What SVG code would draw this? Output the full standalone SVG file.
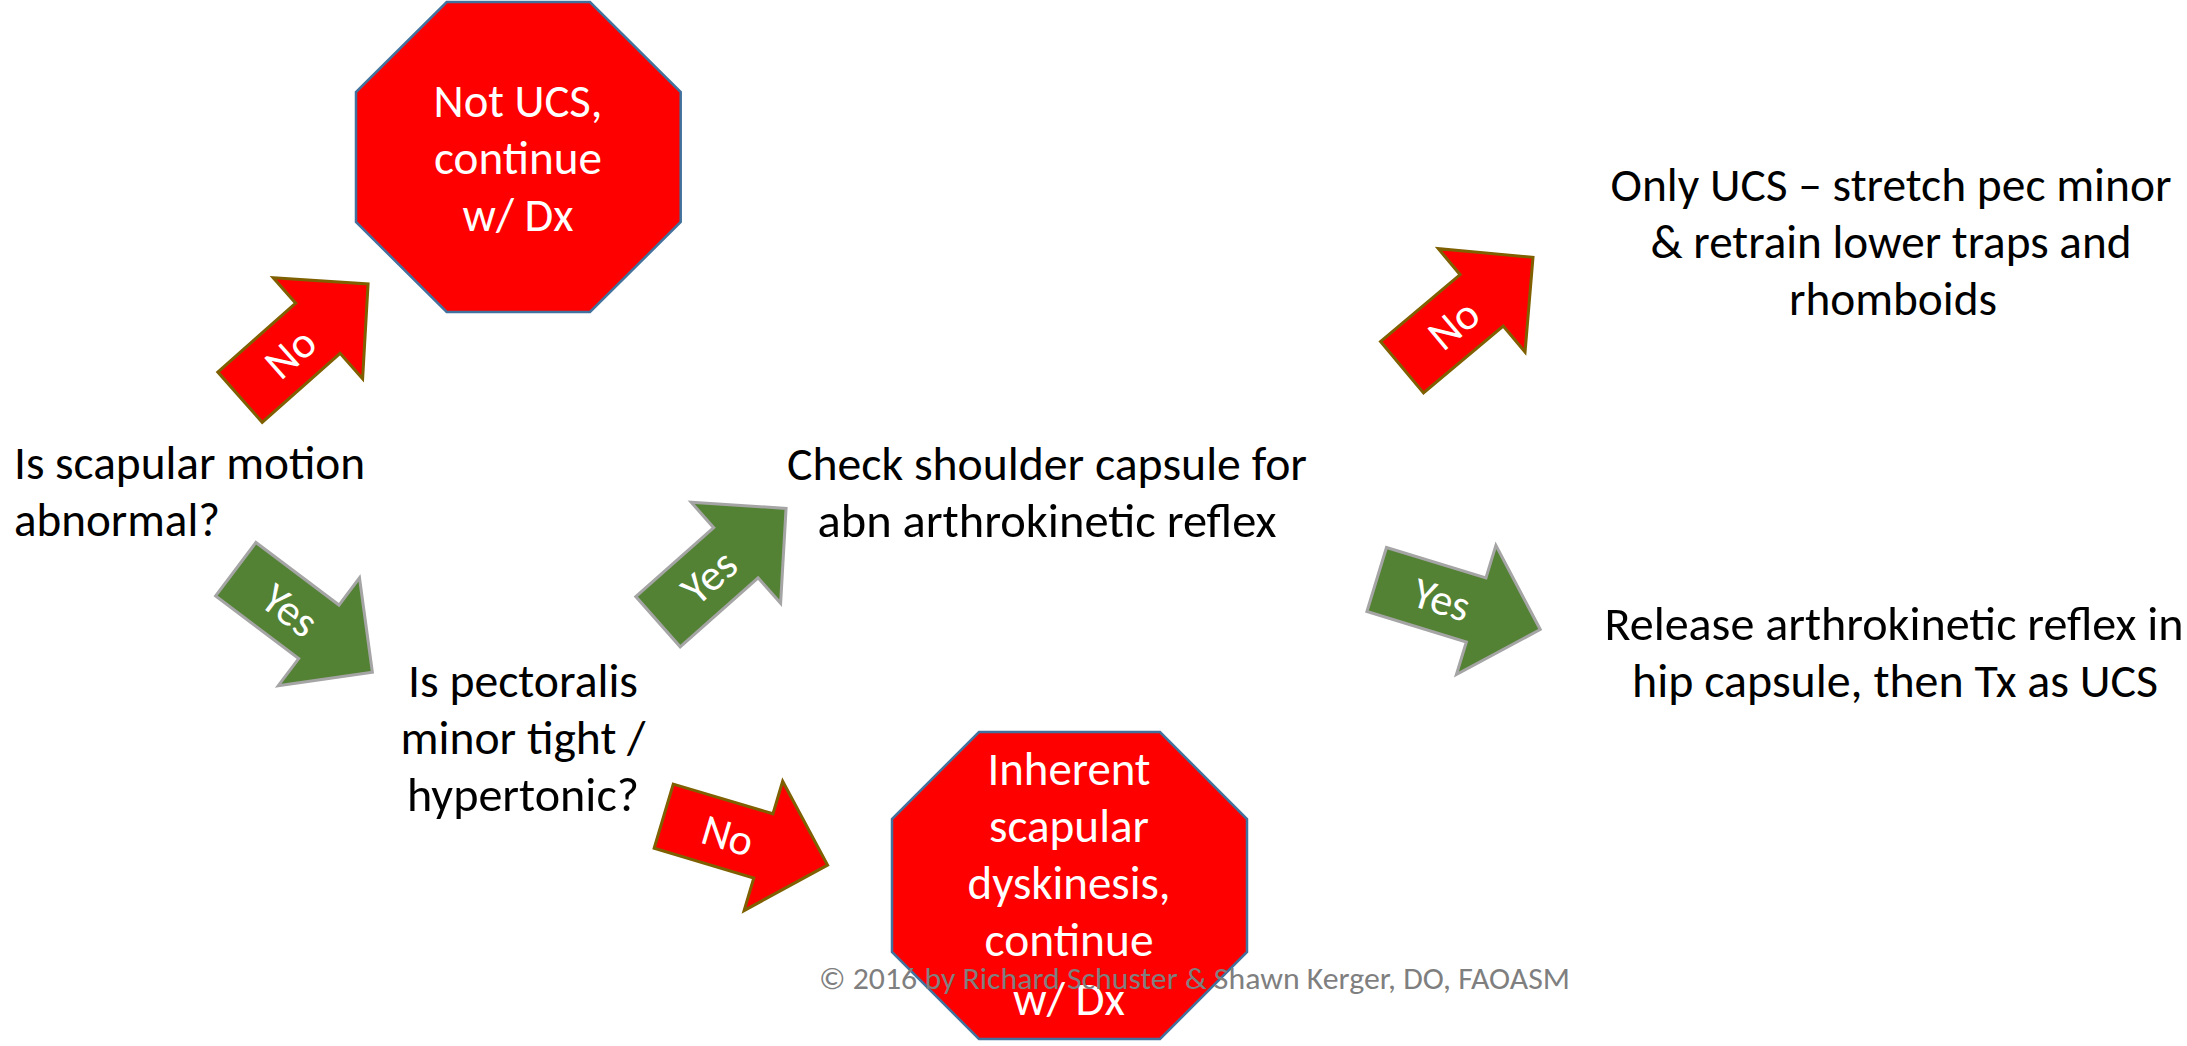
<svg xmlns="http://www.w3.org/2000/svg" xmlns:xlink="http://www.w3.org/1999/xlink" width="2187" height="1046" viewBox="0 0 2187 1046">
<style>
  .t { font-family: Carlito, Lato, "Open Sans", sans-serif; font-size: 48px; fill: #000; text-anchor: middle; }
  .tl { font-family: Carlito, Lato, "Open Sans", sans-serif; font-size: 48px; fill: #000; text-anchor: start; }
  .ot { font-family: Carlito, Lato, "Open Sans", sans-serif; font-size: 48px; fill: #fff; text-anchor: middle; }
  .oct { fill: #FF0000; stroke: #41719C; stroke-width: 2.5; }
  .ano { fill: #FF0000; stroke: #7F6000; stroke-width: 3; stroke-linejoin: miter; }
  .ayes { fill: #548235; stroke: #A5A5A5; stroke-width: 3; stroke-linejoin: miter; }
  .lbl { font-family: Carlito, Lato, "Open Sans", sans-serif; font-size: 44px; fill: #fff; text-anchor: middle; }
  .copy { font-family: Carlito, Lato, "Open Sans", sans-serif; font-size: 31px; fill: #7F7F7F; text-anchor: middle; }
</style>
<defs>
  <path id="blockArrow" d="M0,-33.5 L104,-33.5 L104,-67.5 L171,0 L104,67.5 L104,33.5 L0,33.5 Z"/>
</defs>
<rect width="2187" height="1046" fill="#fff"/>

<g id="connectors">
  <g id="arrow-no-1" transform="translate(240,397.2) rotate(-41.5)">
    <use xlink:href="#blockArrow" href="#blockArrow" class="ano"/>
    <text class="lbl" x="67" y="15">No</text>
  </g>
  <g id="arrow-yes-1" transform="translate(235.8,569.2) rotate(37)">
    <use xlink:href="#blockArrow" href="#blockArrow" class="ayes"/>
    <text class="lbl" x="68" y="15">Yes</text>
  </g>
  <g id="arrow-yes-2" transform="translate(658,621.7) rotate(-41.5)">
    <use xlink:href="#blockArrow" href="#blockArrow" class="ayes"/>
    <text class="lbl" x="68" y="15">Yes</text>
  </g>
  <g id="arrow-no-2" transform="translate(663.7,816.2) rotate(16.6)">
    <use xlink:href="#blockArrow" href="#blockArrow" class="ano"/>
    <text class="lbl" x="67" y="15">No</text>
  </g>
  <g id="arrow-no-3" transform="translate(1402,367.2) rotate(-40)">
    <use xlink:href="#blockArrow" href="#blockArrow" class="ano"/>
    <text class="lbl" x="67" y="15">No</text>
  </g>
  <g id="arrow-yes-3" transform="translate(1376.7,579.5) rotate(17)">
    <use xlink:href="#blockArrow" href="#blockArrow" class="ayes"/>
    <text class="lbl" x="68" y="15">Yes</text>
  </g>
</g>

<g id="node-scapular">
  <text class="tl" x="14" y="479" textLength="351" lengthAdjust="spacingAndGlyphs">Is scapular motion</text>
  <text class="tl" x="14" y="536" textLength="206" lengthAdjust="spacingAndGlyphs">abnormal?</text>
</g>

<g id="node-not-ucs">
  <polygon class="oct" points="446.7,2 590,2 680.7,92 680.7,222 590,312 446.7,312 356,222 356,92"/>
  <text class="ot" x="518" y="117" textLength="169" lengthAdjust="spacingAndGlyphs">Not UCS,</text>
  <text class="ot" x="518" y="174" textLength="168" lengthAdjust="spacingAndGlyphs">continue</text>
  <text class="ot" x="518" y="231" textLength="111" lengthAdjust="spacingAndGlyphs">w/ Dx</text>
</g>

<g id="node-pectoralis">
  <text class="t" x="523" y="697" textLength="230" lengthAdjust="spacingAndGlyphs">Is pectoralis</text>
  <text class="t" x="523" y="754" textLength="245" lengthAdjust="spacingAndGlyphs">minor tight /</text>
  <text class="t" x="523" y="811" textLength="232" lengthAdjust="spacingAndGlyphs">hypertonic?</text>
</g>

<g id="node-capsule">
  <text class="t" x="1047" y="480" textLength="520" lengthAdjust="spacingAndGlyphs">Check shoulder capsule for</text>
  <text class="t" x="1047" y="537" textLength="459" lengthAdjust="spacingAndGlyphs">abn arthrokinetic reflex</text>
</g>

<g id="node-only-ucs">
  <text class="t" x="1891" y="201" textLength="561" lengthAdjust="spacingAndGlyphs">Only UCS – stretch pec minor</text>
  <text class="t" x="1891" y="258" textLength="481" lengthAdjust="spacingAndGlyphs">&amp; retrain lower traps and</text>
  <text class="t" x="1893" y="315" textLength="208" lengthAdjust="spacingAndGlyphs">rhomboids</text>
</g>

<g id="node-release">
  <text class="t" x="1894" y="640" textLength="579" lengthAdjust="spacingAndGlyphs">Release arthrokinetic reflex in</text>
  <text class="t" x="1895" y="697" textLength="526" lengthAdjust="spacingAndGlyphs">hip capsule, then Tx as UCS</text>
</g>

<g id="node-dyskinesis">
  <polygon class="oct" points="979,732 1160,732 1247,819 1247,952 1160,1039 979,1039 892,952 892,819"/>
  <text class="ot" x="1069" y="785" textLength="163" lengthAdjust="spacingAndGlyphs">Inherent</text>
  <text class="ot" x="1069" y="842" textLength="160" lengthAdjust="spacingAndGlyphs">scapular</text>
  <text class="ot" x="1069" y="899" textLength="203" lengthAdjust="spacingAndGlyphs">dyskinesis,</text>
  <text class="ot" x="1069" y="956" textLength="169" lengthAdjust="spacingAndGlyphs">continue</text>
  <text class="ot" x="1069" y="1015" textLength="112" lengthAdjust="spacingAndGlyphs">w/ Dx</text>
</g>

<g id="copyright">
  <text class="copy" x="1194.5" y="989" textLength="751" lengthAdjust="spacingAndGlyphs">© 2016 by Richard Schuster &amp; Shawn Kerger, DO, FAOASM</text>
</g>
</svg>
